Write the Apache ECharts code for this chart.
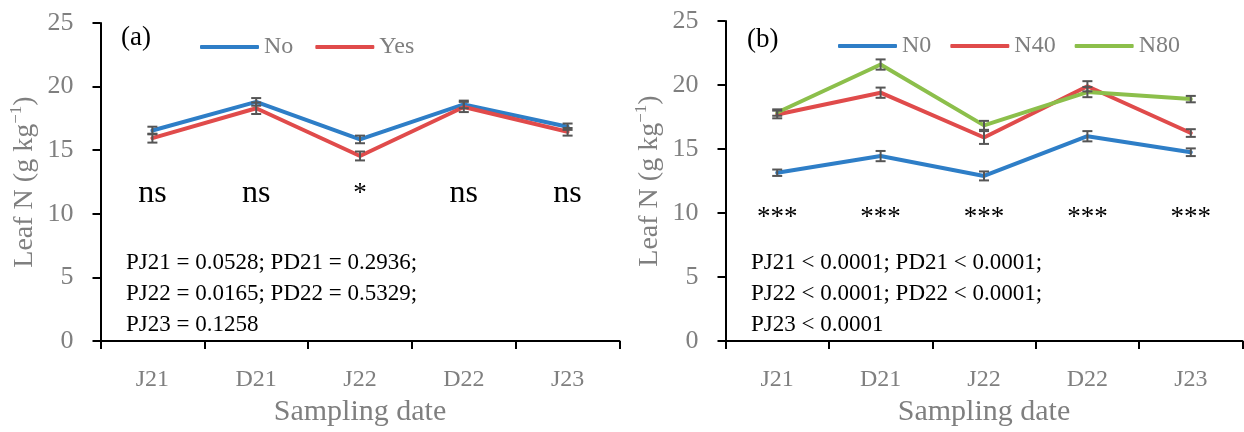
<!DOCTYPE html>
<html>
<head>
<meta charset="utf-8">
<script src="https://cdn.jsdelivr.net/npm/echarts@6/dist/echarts.min.js"></script>
<style>html,body{margin:0;padding:0;background:#fff}#c{width:1244px;height:432px}</style>
</head>
<body>
<div id="c"></div>
<script>
const categories = ['J21', 'D21', 'J22', 'D22', 'J23'];
const yTicks = [0, 5, 10, 15, 20, 25];

// Panel (a)
const valNo  = [16.55, 18.8, 15.85, 18.6, 16.85];
const valYes = [15.95, 18.3, 14.55, 18.4, 16.45];
const errNo  = [0.3, 0.3, 0.3, 0.3, 0.25];
const errYes = [0.35, 0.45, 0.35, 0.4, 0.3];
const sigA   = ['ns', 'ns', '*', 'ns', 'ns'];
const pTextA = ['PJ21 = 0.0528; PD21 = 0.2936;', 'PJ22 = 0.0165; PD22 = 0.5329;', 'PJ23 = 0.1258'];

// Panel (b)
const valN0  = [13.15, 14.45, 12.9, 16.0, 14.75];
const valN40 = [17.7, 19.4, 15.9, 19.9, 16.25];
const valN80 = [17.85, 21.6, 16.85, 19.45, 18.9];
const errN0  = [0.25, 0.4, 0.35, 0.4, 0.3];
const errN40 = [0.3, 0.4, 0.5, 0.4, 0.3];
const errN80 = [0.25, 0.4, 0.35, 0.4, 0.25];
const sigB   = ['***', '***', '***', '***', '***'];
const pTextB = ['PJ21 < 0.0001; PD21 < 0.0001;', 'PJ22 < 0.0001; PD22 < 0.0001;', 'PJ23 < 0.0001'];

const sigLevelA = 11.6;
const sigLevelB = 9.6;

const FONT = '"Liberation Serif", "Times New Roman", serif';
const GREY = '#7F7F7F';
const C_BLUE = '#2E7EC7';
const C_RED = '#E04B4B';
const C_GREEN = '#8CBF4B';
const C_ERR = '#555555';

const chart = echarts.init(document.getElementById('c'), null, {renderer: 'canvas'});

function xAxisDef(gi) {
  return {
    type: 'category', gridIndex: gi, data: categories, boundaryGap: true,
    axisLine: {lineStyle: {color: '#000', width: 2}},
    axisTick: {show: true, length: 8, lineStyle: {color: '#000', width: 2}},
    axisLabel: {color: GREY, fontFamily: FONT, fontSize: 24, margin: 27},
    name: 'Sampling date', nameLocation: 'middle', nameGap: 49,
    nameTextStyle: {color: GREY, fontFamily: FONT, fontSize: 30},
    splitLine: {show: false}
  };
}
function yAxisDef(gi) {
  return {
    type: 'value', gridIndex: gi, min: yTicks[0], max: yTicks[yTicks.length - 1], interval: yTicks[1] - yTicks[0],
    axisLine: {show: true, lineStyle: {color: '#000', width: 2}},
    axisTick: {show: true, length: 8, lineStyle: {color: '#000', width: 2}},
    axisLabel: {color: GREY, fontFamily: FONT, fontSize: 26, margin: 27},
    splitLine: {show: false},
    name: '{a|Leaf N (g kg}{s|−1}{a|)}', nameLocation: 'middle', nameGap: 62, nameRotate: 90,
    nameTextStyle: {
      color: GREY, fontFamily: FONT, fontSize: 28,
      rich: {
        a: {color: GREY, fontFamily: FONT, fontSize: 28, lineHeight: 30, verticalAlign: 'bottom'},
        s: {color: GREY, fontFamily: FONT, fontSize: 17, lineHeight: 30, verticalAlign: 'top'}
      }
    }
  };
}

function lineSeries(name, data, color, gi) {
  return {
    name: name, type: 'line', xAxisIndex: gi, yAxisIndex: gi, data: data,
    showSymbol: false, symbol: 'none', z: 3,
    lineStyle: {color: color, width: 4, cap: 'round', join: 'round'},
    itemStyle: {color: color}
  };
}
function errSeries(vals, errs, gi) {
  return {
    type: 'custom', xAxisIndex: gi, yAxisIndex: gi, z: 5, silent: true,
    data: vals.map((v, i) => [i, v, errs[i]]),
    encode: {x: 0, y: 1},
    renderItem: function (params, api) {
      const i = api.value(0), v = api.value(1), e = api.value(2);
      const top = api.coord([i, v + e]);
      const bot = api.coord([i, v - e]);
      const hw = 5;
      const st = {stroke: C_ERR, lineWidth: 2};
      return {
        type: 'group', children: [
          {type: 'line', shape: {x1: top[0], y1: top[1], x2: bot[0], y2: bot[1]}, style: st},
          {type: 'line', shape: {x1: top[0] - hw, y1: top[1], x2: top[0] + hw, y2: top[1]}, style: st},
          {type: 'line', shape: {x1: bot[0] - hw, y1: bot[1], x2: bot[0] + hw, y2: bot[1]}, style: st}
        ]
      };
    }
  };
}
function sigSeries(labels, level, gi) {
  return {
    type: 'custom', xAxisIndex: gi, yAxisIndex: gi, z: 6, silent: true,
    data: labels.map((t, i) => [i, level]),
    encode: {x: 0, y: 1},
    renderItem: function (params, api) {
      const p = api.coord([api.value(0), api.value(1)]);
      const t = labels[params.dataIndex];
      const star = t.indexOf('*') >= 0;
      return {
        type: 'text', x: p[0], y: p[1],
        style: {
          text: t, fill: '#000', fontFamily: FONT,
          fontSize: star ? 27 : 32, align: 'center', verticalAlign: 'middle'
        }
      };
    }
  };
}

const legendCommon = {
  icon: 'roundRect', itemWidth: 59, itemHeight: 4, padding: 0,
  textStyle: {color: GREY, fontFamily: FONT, fontSize: 24},
  selectedMode: false
};

const option = {
  backgroundColor: '#fff',
  animation: false,
  grid: [
    {left: 100.5, right: 624.5, top: 23, bottom: 83},
    {left: 725.5, right: 1.5, top: 21, bottom: 87}
  ],
  xAxis: [xAxisDef(0), xAxisDef(1)],
  yAxis: [yAxisDef(0), yAxisDef(1)],
  legend: [
    Object.assign({}, legendCommon, {data: ['No', 'Yes'], left: 200, top: 35, itemGap: 22}),
    Object.assign({}, legendCommon, {data: ['N0', 'N40', 'N80'], left: 838, top: 34, itemGap: 19})
  ],
  graphic: [
    {type: 'text', left: 121, top: 24, style: {text: '(a)', fill: '#000', fontFamily: FONT, fontSize: 27}},
    {type: 'text', left: 747, top: 26, style: {text: '(b)', fill: '#000', fontFamily: FONT, fontSize: 27}},
    {type: 'text', left: 126, top: 247, style: {text: pTextA.join('\n'), fill: '#000', fontFamily: FONT, fontSize: 23, lineHeight: 31}},
    {type: 'text', left: 751, top: 247, style: {text: pTextB.join('\n'), fill: '#000', fontFamily: FONT, fontSize: 23, lineHeight: 31}}
  ],
  series: [
    lineSeries('No', valNo, C_BLUE, 0),
    lineSeries('Yes', valYes, C_RED, 0),
    errSeries(valNo, errNo, 0),
    errSeries(valYes, errYes, 0),
    sigSeries(sigA, sigLevelA, 0),
    lineSeries('N0', valN0, C_BLUE, 1),
    lineSeries('N40', valN40, C_RED, 1),
    lineSeries('N80', valN80, C_GREEN, 1),
    errSeries(valN0, errN0, 1),
    errSeries(valN40, errN40, 1),
    errSeries(valN80, errN80, 1),
    sigSeries(sigB, sigLevelB, 1)
  ]
};
chart.setOption(option);
</script>
</body>
</html>
